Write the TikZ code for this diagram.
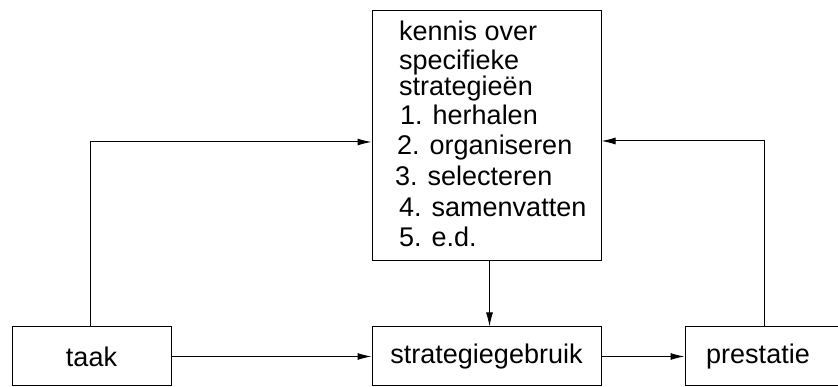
\documentclass[tikz,border=0pt]{standalone}
\usepackage{fontspec}
\setmainfont{Liberation Sans}
\usetikzlibrary{arrows.meta}
\begin{document}
\begin{tikzpicture}[x=1pt,y=1pt,
  box/.style={draw, line width=1pt, inner sep=0pt, font=\fontsize{27}{30}\selectfont},
  txt/.style={inner sep=0pt, anchor=base west, font=\fontsize{27}{30}\selectfont},
  arr/.style={line width=1pt, -{Latex[length=14pt,width=7pt]}}]
\useasboundingbox (0,0) rectangle (838,387);
\clip (0,0) rectangle (838,387);
% boxes
\node[box, minimum width=229pt, minimum height=250pt] (kennis) at (486.5,251) {};
\node[box, minimum width=159pt, minimum height=59pt] (taak) at (91.5,30.5) {taak};
\node[box, minimum width=229pt, minimum height=59pt] (strat) at (486.5,30.5) {strategiegebruik};
\node[box, minimum width=175pt, minimum height=59pt] (prestatie) at (772.5,30.5) {};
\node[inner sep=0pt, font=\fontsize{27}{30}\selectfont] (prestatietxt) at (758,30.5) {prestatie};
% text of the top box
\node[txt] (k1) at (399,346) {kennis over};
\node[txt] (k2) at (399,317) {specifieke};
\node[txt] (k3) at (399,291) {strategieën};
\node[txt] (k4) at (400,262) {1. herhalen};
\node[txt] (k5) at (397,232) {2. organiseren};
\node[txt] (k6) at (395,201) {3. selecteren};
\node[txt] (k7) at (399,170) {4. samenvatten};
\node[txt] (k8) at (399,140) {5. e.d.};
% connectors
\draw[arr] ([xshift=-1pt]taak.north) |- ([yshift=-6pt]kennis.west);
\draw[arr] ([xshift=-8.5pt]prestatie.north) |- ([yshift=-5pt]kennis.east);
\draw[arr] ([xshift=3pt]kennis.south) -- ([xshift=3pt]strat.north);
\draw[arr] (taak.east) -- (strat.west);
\draw[arr] (strat.east) -- (prestatie.west);
\end{tikzpicture}
\end{document}
